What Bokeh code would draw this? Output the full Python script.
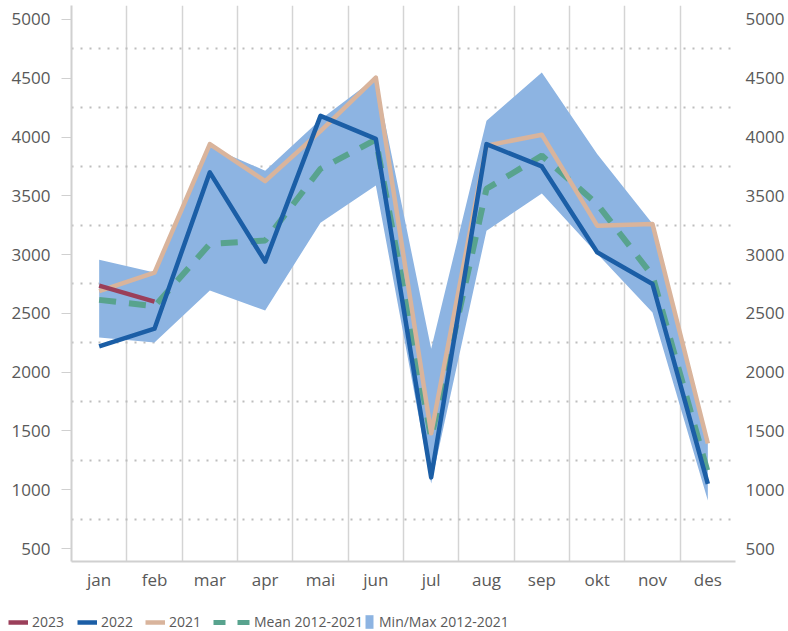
from bokeh.plotting import figure
from bokeh.models import Range1d, FixedTicker, Legend, LegendItem, LinearAxis, ColumnDataSource
from bokeh.layouts import column
from bokeh.embed import file_html
from bokeh.resources import INLINE

months = ["jan", "feb", "mar", "apr", "mai", "jun", "jul", "aug", "sep", "okt", "nov", "des"]
y2023 = [2736, 2600]
y2022 = [2220, 2370, 3700, 2940, 4180, 3985, 1105, 3940, 3750, 3020, 2750, 1050]
y2021 = [2690, 2847, 3940, 3625, 4050, 4505, 1480, 3927, 4020, 3246, 3260, 1393]
mean_12_21 = [2615, 2560, 3090, 3120, 3730, 3978, 1440, 3560, 3842, 3430, 2820, 1145]
max_12_21 = [2957, 2847, 3918, 3714, 4150, 4505, 2200, 4139, 4550, 3855, 3263, 1393]
min_12_21 = [2294, 2252, 2694, 2524, 3272, 3587, 1053, 3204, 3519, 3008, 2507, 908]
y_ticks = [500, 1000, 1500, 2000, 2500, 3000, 3500, 4000, 4500, 5000]
y_dotted = [750, 1250, 1750, 2250, 2750, 3250, 3750, 4250, 4750]
legend_labels = ["2023", "2022", "2021", "Mean 2012-2021", "Min/Max 2012-2021"]

xc = [i + 0.5 for i in range(len(months))]
src = ColumnDataSource(dict(x=xc, m=months, y2022=y2022, y2021=y2021,
                            mean=mean_12_21, lo=min_12_21, hi=max_12_21))
src23 = ColumnDataSource(dict(x=xc[:len(y2023)], y=y2023))

TEXT = "#595959"
FONT = "Open Sans"
C23, C22, C21, CM, CB = "#9b3f5a", "#1b5ea6", "#d9b49c", "#58a38e", "#8db4e2"

p = figure(width=788, height=600, x_range=Range1d(0, 12), y_range=Range1d(389.5, 5119),
           output_backend="svg", toolbar_location=None,
           min_border_left=71, min_border_right=53, min_border_top=5, min_border_bottom=39)
p.outline_line_color = None
p.background_fill_color = "white"

# axes
p.xaxis.ticker = FixedTicker(ticks=xc)
p.xaxis.major_label_overrides = {x: m for x, m in zip(xc, months)}
p.xaxis.axis_line_color = "#d0d0d0"
p.xaxis.axis_line_width = 2
p.xaxis.major_tick_line_color = None
p.xaxis.minor_tick_line_color = None
p.xaxis.major_label_standoff = 0
p.xaxis.major_label_text_font = FONT
p.xaxis.major_label_text_font_size = "17px"
p.xaxis.major_label_text_color = TEXT

p.yaxis.ticker = FixedTicker(ticks=y_ticks)
p.yaxis.axis_line_color = "#d0d0d0"
p.yaxis.axis_line_width = 2
p.yaxis.major_tick_line_color = "#d0d0d0"
p.yaxis.major_tick_line_width = 1
p.yaxis.major_tick_out = 10
p.yaxis.major_tick_in = 0
p.yaxis.minor_tick_line_color = None
p.yaxis.major_label_standoff = 11
p.yaxis.major_label_text_font = FONT
p.yaxis.major_label_text_font_size = "17px"
p.yaxis.major_label_text_color = TEXT

ry = LinearAxis(ticker=FixedTicker(ticks=y_ticks))
ry.axis_line_color = None
ry.major_tick_line_color = None
ry.minor_tick_line_color = None
ry.major_tick_out = 0
ry.major_tick_in = 0
ry.major_label_standoff = 10
ry.major_label_text_font = FONT
ry.major_label_text_font_size = "17px"
ry.major_label_text_color = TEXT
p.add_layout(ry, "right")

# grids
p.xgrid.ticker = FixedTicker(ticks=list(range(13)))
p.xgrid.grid_line_color = "#d4d4d4"
p.xgrid.grid_line_width = 1.5
p.ygrid.ticker = FixedTicker(ticks=y_dotted)
p.ygrid.grid_line_color = "#bdbdbd"
p.ygrid.grid_line_width = 2
p.ygrid.grid_line_dash = "2 7"

# series
p.varea(x="x", y1="lo", y2="hi", source=src, fill_color=CB, fill_alpha=1.0)
p.line("x", "mean", source=src, line_color=CM, line_width=6, line_dash="17 13")
p.line("x", "y2021", source=src, line_color=C21, line_width=4.5, line_join="round")
p.line("x", "y2022", source=src, line_color=C22, line_width=4.5, line_join="round")
p.line("x", "y", source=src23, line_color=C23, line_width=4.5, line_join="round")

# legend strip (separate figure so the legend is not clipped by the chart frame);
# its renderers hold the same series, which lie outside this strip's range
lf = figure(width=788, height=31, x_range=Range1d(0, 788), y_range=Range1d(0, 31),
            x_axis_type=None, y_axis_type=None, output_backend="svg", toolbar_location=None,
            min_border_left=0, min_border_right=0, min_border_top=0, min_border_bottom=0)
lf.outline_line_color = None
lf.xgrid.visible = False
lf.ygrid.visible = False

g23 = lf.line(x=xc[:len(y2023)], y=y2023, line_color=C23, line_width=4.5)
g22 = lf.line(x=xc, y=y2022, line_color=C22, line_width=4.5)
g21 = lf.line(x=xc, y=y2021, line_color=C21, line_width=4.5)
gm = lf.line(x=xc, y=mean_12_21, line_color=CM, line_width=5, line_dash="12 12")
gb = lf.varea(x=xc, y1=min_12_21, y2=max_12_21, fill_color=CB)

specs = [(g23, 8, 20, 16, 4), (g22, 77, 20, 16, 4), (g21, 145, 20, 16, 4),
         (gm, 213, 40, 16, 1), (gb, 364, 10, 17, 5)]
for lab, (r, x0, gw, gh, so) in zip(legend_labels, specs):
    lg = Legend(items=[LegendItem(label=lab, renderers=[r])], location=(x0, 0),
                orientation="horizontal", glyph_width=gw, glyph_height=gh,
                label_standoff=so, padding=0, margin=0, spacing=0, label_height=16,
                background_fill_alpha=0, border_line_alpha=0,
                label_text_font=FONT, label_text_font_size="14px",
                label_text_color=TEXT)
    lf.add_layout(lg)

layout = column(p, column(lf, spacing=0), spacing=0)
open("out.html", "w").write(file_html(layout, INLINE))
